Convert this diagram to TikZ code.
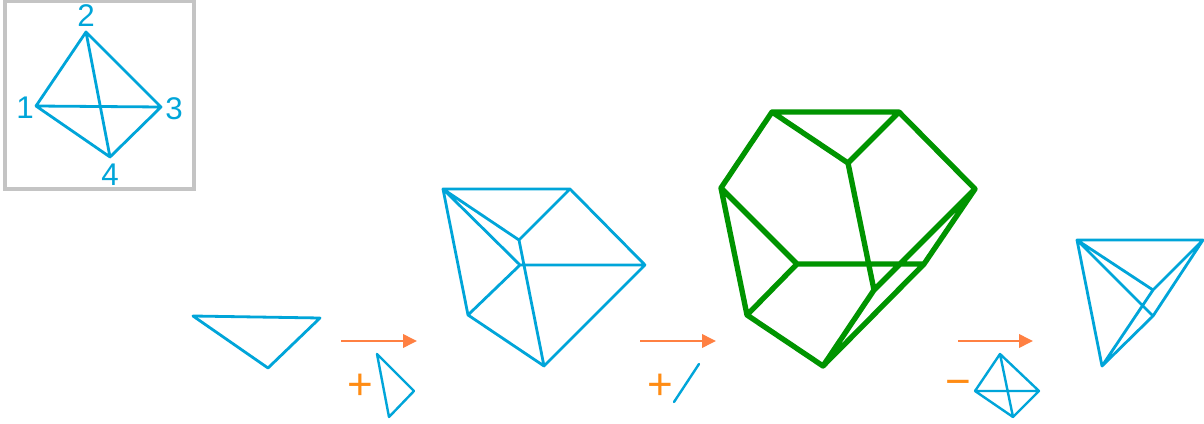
\documentclass[tikz,border=0pt]{standalone}
\usepackage{fontspec}
\setmainfont{Liberation Sans}
\usetikzlibrary{arrows.meta}
\definecolor{mesh}{HTML}{00A5D9}
\definecolor{solid}{HTML}{009400}
\definecolor{flow}{HTML}{FF8042}
\definecolor{sign}{HTML}{FF8C14}
\definecolor{frame}{HTML}{C4C4C4}
\tikzset{
  meshline/.style={draw=mesh,line width=2.1pt,line join=round,line cap=round},
  smallmesh/.style={draw=mesh,line width=1.8pt,line join=round,line cap=round},
  solidline/.style={draw=solid,line width=4pt,line join=round,line cap=round},
  flowarrow/.style={draw=flow,line width=1.9pt,-{Triangle[length=10.5pt,width=10pt]}},
  numlabel/.style={text=mesh,font=\fontsize{23.5}{24}\selectfont,inner sep=0pt},
  signlabel/.style={text=sign,font=\fontsize{33}{33}\selectfont,inner sep=0pt},
}
\begin{document}
\begin{tikzpicture}[x=0.75pt,y=-0.75pt]
\useasboundingbox (0,0) rectangle (1204,424);
\fill[white] (0,0) rectangle (1204,424);

% legend box
\draw[draw=frame,line width=2.7pt] (5,1) rectangle (194,189);
\foreach \n/\p in {a/{36,106},b/{86,32},c/{161,107},d/{110,157}} {\coordinate (t\n) at (\p);}
\draw[meshline] (ta)--(tb)--(tc)--(td)--(ta)--(tc) (tb)--(td);
\node[numlabel] (l1) at (25,107.5) {1};
\node[numlabel] (l2) at (86,15.5) {2};
\node[numlabel] (l3) at (174,108.5) {3};
\node[numlabel] (l4) at (110,174.5) {4};

% step 1
\coordinate (s1a) at (193,316);
\coordinate (s1b) at (320,318);
\coordinate (s1c) at (268,368);
\draw[meshline] (s1a)--(s1b)--(s1c)--cycle;

\coordinate (a1s) at (341,341);
\coordinate (a1e) at (417,341);
\draw[flowarrow] (a1s)--(a1e);
\node[signlabel] (p1) at (360,387) {+};
\coordinate (k1) at (377,354);
\coordinate (k2) at (414,391);
\coordinate (k3) at (389,417);
\draw[smallmesh] (k1)--(k2)--(k3)--cycle;

% step 2
\coordinate (A) at (443,189);
\coordinate (B) at (570,189);
\coordinate (C) at (645,265);
\coordinate (D) at (544,366);
\coordinate (E) at (468,315);
\coordinate (F) at (519,240);
\coordinate (G) at (520,265);
\draw[meshline] (A)--(B)--(C)--(D)--(E)--cycle
  (A)--(F)--(B) (F)--(D) (A)--(G)--(C) (G)--(E);

\coordinate (a2s) at (640,341);
\coordinate (a2e) at (716,341);
\draw[flowarrow] (a2s)--(a2e);
\node[signlabel] (p2) at (660,387) {+};
\coordinate (m1) at (699,364);
\coordinate (m2) at (674,402);
\draw[smallmesh] (m1)--(m2);

% step 3
\coordinate (P1) at (772,112);
\coordinate (P2) at (899,112);
\coordinate (P3) at (975,189);
\coordinate (P4) at (924,264);
\coordinate (P5) at (823,366);
\coordinate (P6) at (747,315);
\coordinate (P7) at (721,188);
\coordinate (P8) at (848,163);
\coordinate (P9) at (797,264);
\coordinate (P10) at (874,290);
\draw[solidline] (P1)--(P2)--(P3)--(P4)--(P5)--(P6)--(P7)--cycle
  (P1)--(P8)--(P2) (P8)--(P10)--(P3) (P10)--(P5)
  (P7)--(P9)--(P6) (P9)--(P4);

\coordinate (a3s) at (958,341);
\coordinate (a3e) at (1033,341);
\draw[flowarrow] (a3s)--(a3e);
\node[signlabel] (p3) at (958.5,388) {−};
\coordinate (q1) at (1000,354);
\coordinate (q2) at (975,391);
\coordinate (q3) at (1039,391);
\coordinate (q4) at (1013,417);
\draw[smallmesh] (q1)--(q2)--(q4)--(q3)--cycle (q2)--(q3) (q1)--(q4);

% result
\coordinate (R1) at (1077,240);
\coordinate (R2) at (1203,240);
\coordinate (R3) at (1153,290);
\coordinate (R4) at (1153,316);
\coordinate (R5) at (1102,366);
\draw[meshline] (R1)--(R2) (R1)--(R5) (R1)--(R3) (R1)--(R4)
  (R2)--(R3)--(R5) (R2)--(R4)--(R5);
\end{tikzpicture}
\end{document}
